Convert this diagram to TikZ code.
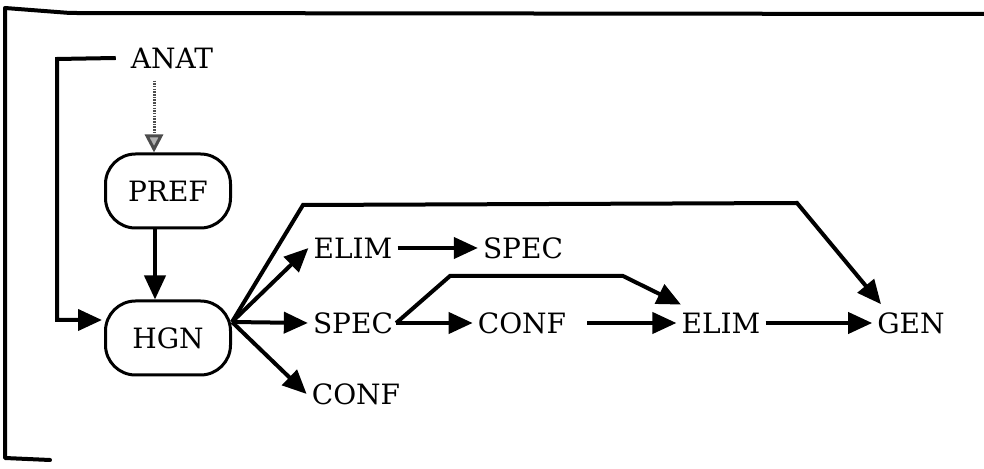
\documentclass[tikz,border=0pt]{standalone}
\usepackage{fontspec}
\setmainfont{DejaVu Serif}
\usetikzlibrary{arrows.meta}
\begin{document}
\begin{tikzpicture}[x=1pt,y=1pt,
  lbl/.style={font=\fontsize{28}{28}\selectfont, inner xsep=5pt, inner ysep=0pt, anchor=center},
  rbox/.style={draw, line width=3pt, rounded corners=30pt, minimum width=125pt, minimum height=74pt, font=\fontsize{28}{28}\selectfont, inner sep=0pt},
  arr/.style={line width=4pt, -{Triangle[length=24pt,width=21pt]}},
  dotarr/.style={line width=3pt, gray!60!black, dash pattern=on 1.5pt off 1.2pt, -{Triangle[length=18pt,width=18pt,color=gray!60!black,fill=gray!60]}},
  frame/.style={line width=4pt, line cap=round, line join=round}
]
\useasboundingbox (0,0) rectangle (984,468);
% frame
\draw[frame] (984,454) -- (70,455) -- (5,460) -- (5,10) -- (50,8);
% nodes
\node[lbl] (anat) at (172,410) {ANAT};
\node[rbox] (pref) at (168,277) {PREF};
\node[rbox] (hgn) at (168,130) {HGN};
\node[lbl] (elima) at (353,220) {ELIM};
\node[lbl] (speca) at (523,220) {SPEC};
\node[lbl] (specb) at (353,145) {SPEC};
\node[lbl] (confb) at (522,145) {CONF};
\node[lbl] (elimb) at (721,145) {ELIM};
\node[lbl] (gen) at (911,145) {GEN};
\node[lbl] (confc) at (356,74) {CONF};
% helper coordinates
\coordinate (hout) at ([yshift=16pt]hgn.east);
\coordinate (sout) at ([xshift=-2pt]specb.east);
% left bracket from ANAT into HGN
\draw[arr, line join=miter] ([xshift=-10pt]anat.west) -- (57,409) -- (57,148) -- ([yshift=18pt,xshift=-2pt]hgn.west);
% dotted arrow ANAT -> PREF
\draw[dotarr] ([xshift=-18pt,yshift=-12pt]anat.south) -- ([xshift=-14pt]pref.north);
% PREF -> HGN
\draw[arr] ([xshift=-13pt]pref.south) -- ([xshift=-13pt]hgn.north);
% HGN outputs
\draw[arr] (hout) -- (elima.west);
\draw[arr] (hout) -- (specb.west);
\draw[arr] (hout) -- (confc.west);
\draw[arr, line join=miter] (hout) -- (303,263) -- (797,265) -- ([xshift=-30pt,yshift=8pt]gen.north);
% row 1
\draw[arr] (elima.east) -- (speca.west);
% row 2
\draw[arr] (sout) -- (confb.west);
\draw[arr, line join=miter] (sout) -- (450,192) -- (623,192) -- ([xshift=-40pt,yshift=8pt]elimb.north);
\draw[arr] ([xshift=16pt]confb.east) -- (elimb.west);
\draw[arr] (elimb.east) -- (gen.west);
\end{tikzpicture}
\end{document}
